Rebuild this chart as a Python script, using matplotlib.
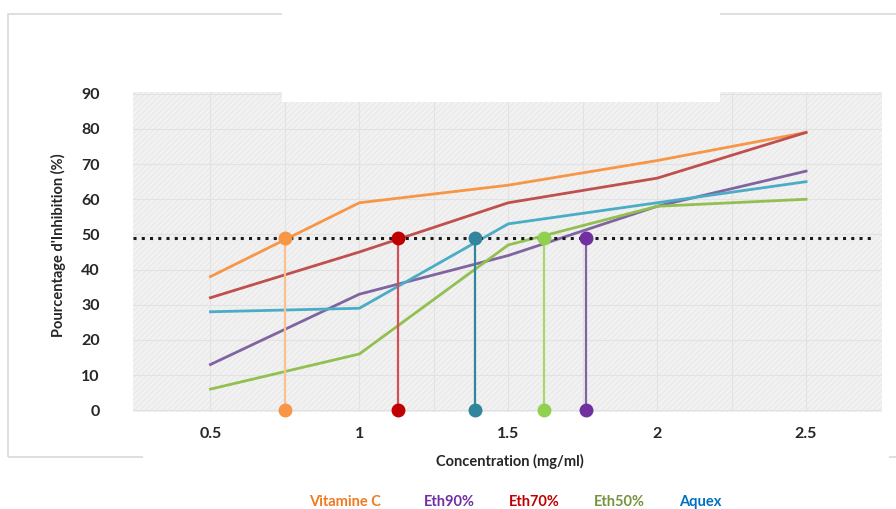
import matplotlib.pyplot as plt
from matplotlib.patches import Rectangle

conc = [0.5, 1, 1.5, 2, 2.5]
conc_labels = ['0.5', '1', '1.5', '2', '2.5']
vit_c = [38, 59, 64, 71, 79]
eth90 = [13, 33, 44, 58, 68]
eth70 = [32, 45, 59, 66, 79]
eth50 = [6, 16, 47, 58, 60]
aquex = [28, 29, 53, 59, 65]

# IC50 read-off points (x where each curve crosses 50 %)
ic50 = [0.75, 1.13, 1.39, 1.62, 1.76]
ic50_level = 49

names = ['Vitamine C', 'Eth90%', 'Eth70%', 'Eth50%', 'Aquex']
series = [vit_c, eth90, eth70, eth50, aquex]
line_cols = ['#F79646', '#8064A2', '#C0504D', '#92C050', '#4BACC6']
# ic50 markers are ordered vit_c, eth70, aquex, eth50, eth90
ic_cols = ['#F79646', '#C00000', '#31859C', '#92D050', '#7030A0']
ic_line_cols = ['#FAC090', '#D0505A', '#31859C', '#A8D86A', '#8064A2']
legend_cols = ['#F07A20', '#7030A0', '#C00000', '#77933C', '#0070C0']

plt.rcParams['font.family'] = ['Lato', 'DejaVu Sans']

fig = plt.figure(figsize=(8.96, 5.09), dpi=100)
W, H = 896, 509

# outer chart frame
fig.patches.append(Rectangle((8 / W, 1 - 457 / H), 900 / W, 443 / H,
                             transform=fig.transFigure, fill=False,
                             edgecolor='#d9d9d9', lw=1.2, zorder=0))
# white patch under the tick labels (as in the source screenshot)
fig.patches.append(Rectangle((143 / W, 0), 746 / W, 1 - 415 / H,
                             transform=fig.transFigure, facecolor='white',
                             edgecolor='none', zorder=0.5))

ax = fig.add_axes([133 / W, 1 - 412 / H, 749 / W, 320 / H])
ax.set_zorder(1)
ax.set_facecolor('#f2f2f2')
ax.add_patch(Rectangle((0, 0), 1, 1, transform=ax.transAxes, fill=False,
                       hatch='//////', edgecolor='#eaeaea', lw=0, zorder=0))
ax.set_xlim(0.24, 2.755)
ax.set_ylim(-0.5, 90.5)

ax.set_xticks(conc, conc_labels)
ax.set_xticks([0.75, 1.25, 1.75, 2.25], minor=True)
ax.set_yticks(range(0, 91, 10))
ax.grid(True, which='both', color='#e2e2e2', lw=0.8)
ax.set_axisbelow(True)
for s in ax.spines.values():
    s.set_visible(False)
ax.tick_params(which='both', length=0)
ax.tick_params(axis='y', pad=24, labelsize=11.5, labelcolor='#262626')
ax.tick_params(axis='x', pad=11, labelsize=11.5, labelcolor='#262626')
for lab in ax.get_xticklabels() + ax.get_yticklabels():
    lab.set_fontweight('bold')

for ys, c in zip(series, line_cols):
    ax.plot(conc, ys, color=c, lw=2, zorder=3)

ax.axhline(ic50_level, xmin=0, xmax=0.99, color='#1a1a1a',
           linestyle=(0, (1, 1.7)), lw=2.2, zorder=4)

for x, c, lc in zip(ic50, ic_cols, ic_line_cols):
    ax.plot([x, x], [0, ic50_level], color=lc, lw=1.6, zorder=4)
    ax.plot([x, x], [0, ic50_level], 'o', color=c, ms=9, zorder=5,
            clip_on=False)

ax.set_ylabel("Pourcentage d'Inhibition (%)", fontsize=10.5,
              fontweight='bold', color='#262626')
ax.yaxis.set_label_coords(-0.09, 0.52)

# white patch over the top of the chart (as in the source screenshot)
fig.patches.append(Rectangle((282 / W, 1 - 102 / H), 438 / W, 102 / H,
                             transform=fig.transFigure, facecolor='white',
                             edgecolor='none', zorder=10))

fig.text(510 / W, 1 - 461 / H, 'Concentration (mg/ml)', ha='center',
         va='center', fontsize=10.5, fontweight='bold', color='#262626')

leg_x = [345, 449, 534, 619, 700]
for x, n, c in zip(leg_x, names, legend_cols):
    fig.text(x / W, 1 - 502 / H, n, ha='center', va='center', fontsize=10.5,
             fontweight='bold', color=c)

fig.savefig('out.png', dpi=100)
